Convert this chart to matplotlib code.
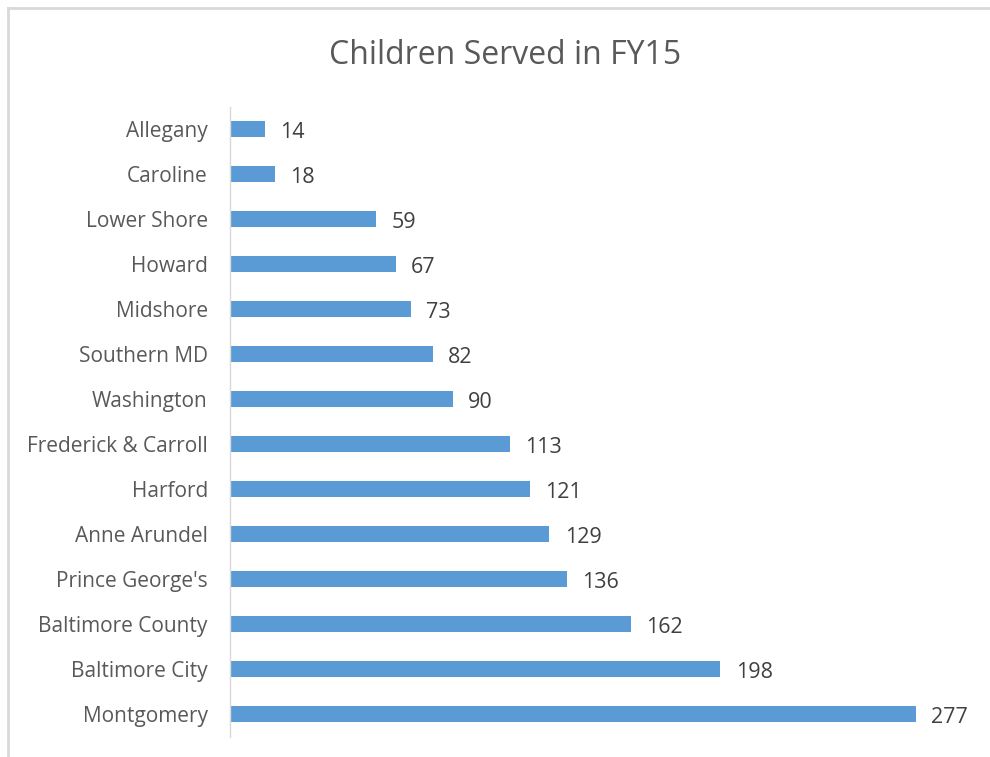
import matplotlib
matplotlib.use("Agg")
import matplotlib.pyplot as plt
from matplotlib.lines import Line2D

categories = ["Allegany", "Caroline", "Lower Shore", "Howard", "Midshore", "Southern MD",
              "Washington", "Frederick & Carroll", "Harford", "Anne Arundel", "Prince George's",
              "Baltimore County", "Baltimore City", "Montgomery"]
values = [14, 18, 59, 67, 73, 82, 90, 113, 121, 129, 136, 162, 198, 277]
title = "Children Served in FY15"

plt.rcParams['font.family'] = ['Open Sans', 'DejaVu Sans']

W, H = 990, 757
fig = plt.figure(figsize=(W/100, H/100), dpi=100)
ax = fig.add_axes([230/W, 1-736.5/H, (973-230)/W, (736.5-106.5)/H])

ypos = list(range(len(categories)))
ax.barh(ypos, values, height=0.35, color="#5B9BD5")
ax.set_ylim(len(categories)-0.5, -0.5)
ax.set_xlim(0, 300)
ax.set_yticks(ypos)
ax.set_yticklabels(categories, fontsize=15, color="#595959")
ax.tick_params(axis='y', length=0, pad=16)
ax.set_xticks([])
for s in ["top", "right", "bottom"]:
    ax.spines[s].set_visible(False)
ax.spines["left"].set_color("#D9D9D9")
ax.spines["left"].set_linewidth(1)

for y, v in zip(ypos, values):
    ax.annotate(str(v), (v, y), xytext=(11, -2.5), textcoords="offset points",
                va="center", ha="left", fontsize=15.5, color="#404040")

fig.text(505/W, 1-55/H, title, ha="center", va="center", fontsize=23, color="#595959")

fig.add_artist(Line2D([8/W, 8/W], [0, 1-8/H], transform=fig.transFigure, color="#D9D9D9", lw=2))
fig.add_artist(Line2D([8/W, 1], [1-8/H, 1-8/H], transform=fig.transFigure, color="#D9D9D9", lw=2))

fig.savefig("out.png", dpi=100)
